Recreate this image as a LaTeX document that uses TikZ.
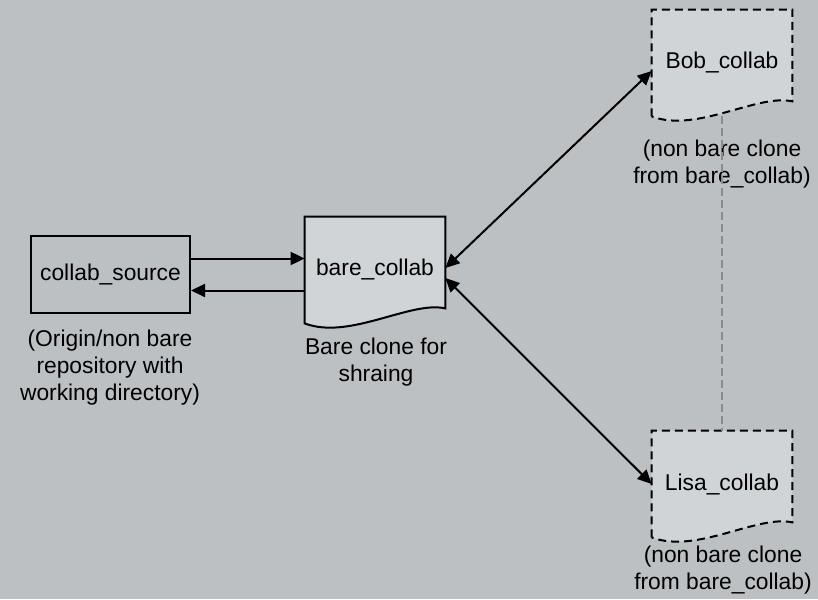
\documentclass[tikz,border=0pt]{standalone}
\usepackage{fontspec}
\setmainfont{Liberation Sans}
\usetikzlibrary{arrows.meta,backgrounds,calc}
\definecolor{paper}{RGB}{189,192,194}
\definecolor{sheet}{RGB}{209,212,214}
\definecolor{guide}{RGB}{138,140,142}

\begin{document}
\begin{tikzpicture}[x=0.5pt,y=-0.5pt,>={Triangle[length=7pt,width=6.5pt]},
  txt/.style={font=\fontsize{11.4}{13.5}\selectfont},
  repo/.style={txt,draw,line width=1pt,minimum width=79.5pt,minimum height=38.5pt},
  doc/.style={txt,minimum width=70pt,minimum height=53pt},
  note/.style={txt,align=center,inner sep=0pt},
  clone/.style={dash pattern=on 4pt off 2.5pt},
  link/.style={line width=1pt}]
  \useasboundingbox (0,0) rectangle (818,599);
  \node[repo] (src) at (110.5,274.5) {collab\_source};
  \node[doc] (bare) at (375,270) {bare\_collab};
  \node[doc] (bob) at (722,63) {Bob\_collab};
  \node[doc] (lisa) at (722,484) {Lisa\_collab};
  \node[note] (srcnote) at (110,368) {(Origin/non bare\\repository with\\working directory)};
  \node[note] (barenote) at (376,362) {Bare clone for\\shraing};
  \node[note] (bobnote) at (722,164) {(non bare clone\\from bare\_collab)};
  \node[note] (lisanote) at (723,570) {(non bare clone\\from bare\_collab)};
  \begin{scope}[on background layer]
    \fill[paper] (0,0) rectangle (818,599);
    \foreach \n/\s in {bare/solid,bob/clone,lisa/clone}
      \draw[fill=sheet,line width=1pt,\s] (\n.south west) -- (\n.north west) -- (\n.north east)
        -- ($(\n.south east)+(0,7.5pt)$)
        .. controls ($(\n.south east)+(-17.5pt,11.5pt)$) and ($(\n.south west)+(22.5pt,-8.5pt)$) .. (\n.south west) -- cycle;
  \end{scope}
  \draw[link,->] ($(src.east)+(0,8pt)$) -- ($(src.east -| bare.west)+(0,8pt)$);
  \draw[link,<-] ($(src.east)+(0,-8pt)$) -- ($(src.east -| bare.west)+(0,-8pt)$);
  \draw[link,<->] ([yshift=1pt]bare.east) -- ([yshift=-4pt]bob.west);
  \draw[link,<->] ([yshift=-4pt]bare.east) -- (lisa.west);
  \draw[guide,line width=1pt,dash pattern=on 4pt off 2pt] (bob.south) -- (lisa.north);
\end{tikzpicture}
\end{document}
